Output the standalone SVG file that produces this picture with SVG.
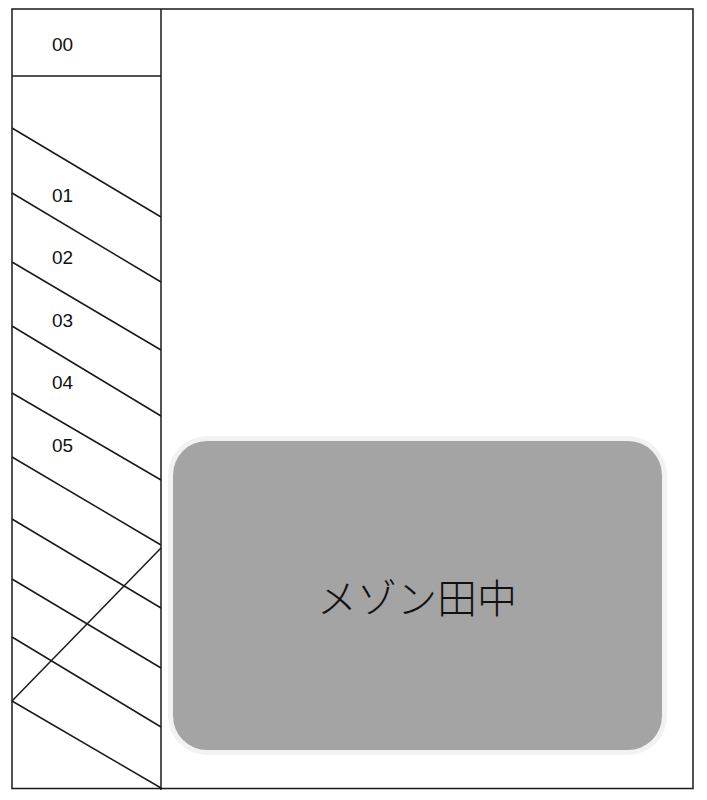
<svg xmlns="http://www.w3.org/2000/svg" width="707" height="800" viewBox="0 0 707 800">
<style>
.ln{stroke:#1a1a1a;stroke-width:1.5;fill:none}
.lbl{font-family:"Liberation Sans",Arial,sans-serif;font-size:19px;fill:#111}
.name{font-family:"Noto Sans CJK JP",sans-serif;font-size:40px;font-weight:300;fill:#111}
</style>
<rect width="707" height="800" fill="#fff"/>
<g id="frame">
<rect class="ln" x="12" y="9" width="681" height="779.5"/>
<line class="ln" x1="161" y1="9" x2="161" y2="790"/>
<line class="ln" x1="12" y1="76" x2="161" y2="76"/>
</g>
<g id="connectors">
<line class="ln" x1="12" y1="128" x2="161" y2="217"/>
<line class="ln" x1="12" y1="193" x2="161" y2="282"/>
<line class="ln" x1="12" y1="262" x2="161" y2="350"/>
<line class="ln" x1="12" y1="326" x2="161" y2="416"/>
<line class="ln" x1="12" y1="393" x2="161" y2="480"/>
<line class="ln" x1="12" y1="457" x2="161" y2="545"/>
<line class="ln" x1="12" y1="519" x2="161" y2="608"/>
<line class="ln" x1="12" y1="579" x2="161" y2="668"/>
<line class="ln" x1="12" y1="637" x2="161" y2="727"/>
<line class="ln" x1="12" y1="701" x2="161" y2="788"/>
<line class="ln" x1="12" y1="701" x2="161" y2="548"/>
</g>
<g id="label-00"><text class="lbl" x="52" y="51">00</text></g>
<g id="label-01"><text class="lbl" x="52" y="201.5">01</text></g>
<g id="label-02"><text class="lbl" x="52" y="264">02</text></g>
<g id="label-03"><text class="lbl" x="52" y="326.5">03</text></g>
<g id="label-04"><text class="lbl" x="52" y="389">04</text></g>
<g id="label-05"><text class="lbl" x="52" y="451.5">05</text></g>
<g id="node-maison">
<rect x="168" y="436" width="499" height="319" rx="39" ry="39" fill="#f2f2f2"/>
<rect x="173" y="441" width="489" height="309" rx="34" ry="34" fill="#a4a4a4"/>
<text class="name" x="417" y="613" text-anchor="middle">メゾン田中</text>
</g>
</svg>
